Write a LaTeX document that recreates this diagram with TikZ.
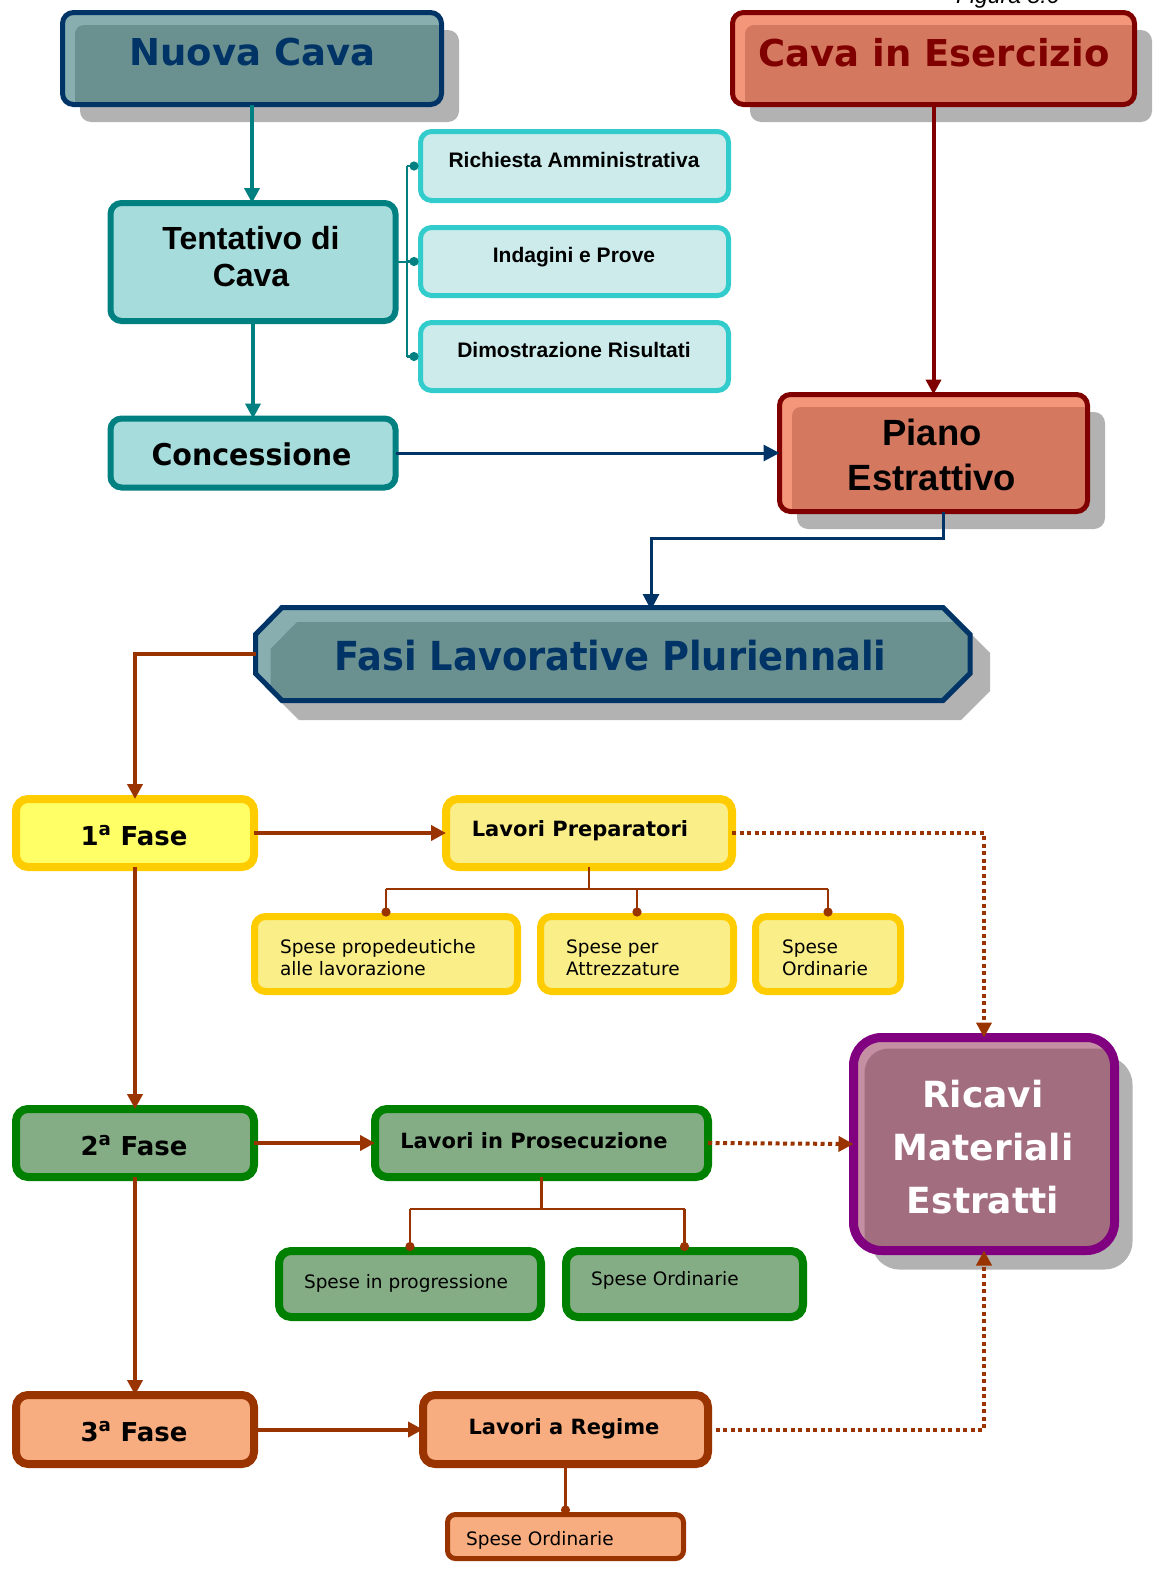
\documentclass[tikz,border=0pt]{standalone}
\usepackage{fontspec}
\setmainfont{DejaVu Sans}
\newfontfamily\midfont{DejaVu Sans}[FakeStretch=0.95]
\newfontfamily\fasifont{DejaVu Sans}[FakeStretch=0.92]
\newfontfamily\arialfont{Liberation Sans}
\usetikzlibrary{shadows,arrows.meta,calc}

\definecolor{navy}{HTML}{003366}
\definecolor{tealline}{HTML}{008080}
\definecolor{cyanedge}{HTML}{33CCCC}
\definecolor{cyanpale}{HTML}{CCEBEA}
\definecolor{cyanfill}{HTML}{A6DCDC}
\definecolor{slatelight}{HTML}{88AEB0}
\definecolor{slate}{HTML}{6A9190}
\definecolor{darkred}{HTML}{800000}
\definecolor{salmonlight}{HTML}{F4967A}
\definecolor{salmon}{HTML}{D47860}
\definecolor{shadowgray}{HTML}{B3B2B3}
\definecolor{gold}{HTML}{FFCC00}
\definecolor{lemon}{HTML}{FFFF66}
\definecolor{paleyellow}{HTML}{F9EE88}
\definecolor{leafgreen}{HTML}{008000}
\definecolor{sage}{HTML}{85AD85}
\definecolor{rust}{HTML}{993300}
\definecolor{peach}{HTML}{F8AD80}
\definecolor{plum}{HTML}{800080}
\definecolor{mauve}{HTML}{A36D80}
\definecolor{mauvelight}{HTML}{C48FA3}

\begin{document}
\begin{tikzpicture}[x=1pt,y=-1pt,
  every node/.style={inner sep=0pt,outer sep=0pt},
  sz/.style 2 args={minimum width=#1pt,minimum height=#2pt},
  castshadow/.style={drop shadow={shadow xshift=17.5pt,shadow yshift=-17.5pt,fill=shadowgray,opacity=1}},
  bevel/.style 2 args={fill=#1,path picture={
      \fill[#2,rounded corners=9pt]
        ($(path picture bounding box.north west)+(12.5,12.5)$)
        rectangle ($(path picture bounding box.south east)+(20,20)$);}},
  headbox/.style={rectangle,draw,line width=5pt,rounded corners=11pt},
  plainbox/.style={rectangle,draw,line width=5pt,rounded corners=11pt},
  phasebox/.style={rectangle,draw,line width=8pt,rounded corners=12pt},
  costbox/.style={rectangle,draw,line width=7pt,rounded corners=11pt},
  tealarrow/.style={draw=tealline,line width=4.5pt,-{Triangle[length=15pt,width=15pt]}},
  tealtree/.style={draw=tealline,line width=2.5pt},
  tealdot/.style={tealtree,-{Circle[length=9pt]}},
  navyarrow/.style={draw=navy,line width=3pt,-{Triangle[length=16pt,width=16pt]}},
  redarrow/.style={draw=darkred,line width=4pt,-{Triangle[length=15pt,width=15pt]}},
  rustarrow/.style={draw=rust,line width=4pt,-{Triangle[length=15pt,width=15pt]}},
  rustdotted/.style={draw=rust,line width=4pt,dash pattern=on 4pt off 3.5pt,-{Triangle[length=15pt,width=15pt]}},
  rusttree/.style={draw=rust,line width=2.5pt},
  rustdot/.style={rusttree,-{Circle[length=9pt]}},
  bigtitle/.style={font=\bfseries\fontsize{37}{44}\selectfont},
  arialbold/.style 2 args={font=\arialfont\bfseries\fontsize{#1}{#2}\selectfont},
  phasetext/.style={font=\bfseries\fontsize{26}{30}\selectfont},
  worktext/.style={font=\bfseries\fontsize{21}{25}\selectfont},
  costtext/.style={font=\fontsize{18.5}{22}\selectfont,align=left,anchor=base west}
]
\useasboundingbox (0,0) rectangle (1160,1574);

% caption cut by the page edge
\node[anchor=base west,font=\arialfont\itshape\fontsize{23}{23}\selectfont] (caption) at (956,4) {Figura 8.6};

% ---------- header boxes ----------
\node[headbox,draw=navy,castshadow,bevel={slatelight}{slate},sz={379}{92}] (nuova) at (252,58.5) {};
\node[bigtitle,text=navy,anchor=base] (nuovat) at (252.5,65) {Nuova Cava};

\node[headbox,draw=darkred,castshadow,bevel={salmonlight}{salmon},sz={402}{92}] (cava) at (933.5,58.5) {};
\node[bigtitle,text=darkred,anchor=base] (cavat) at (934,66) {Cava in Esercizio};

% ---------- authorisation branch ----------
\node[plainbox,draw=tealline,line width=6pt,fill=cyanfill,sz={285}{118}] (tentativo) at (253,262) {};
\node[arialbold={32}{37},align=center] (tentativot) at (251,256.5) {Tentativo di\\Cava};

\node[plainbox,draw=tealline,line width=6pt,fill=cyanfill,sz={285}{69}] (concessione) at (253,453) {};
\node[font=\midfont\bfseries\fontsize{30}{36}\selectfont,anchor=base] (concessionet) at (251.5,465) {Concessione};

\node[plainbox,draw=cyanedge,fill=cyanpale,sz={308}{69}] (richiesta) at (574.5,166) {};
\node[arialbold={21}{25},anchor=base] (richiestat) at (574,167) {Richiesta Amministrativa};
\node[plainbox,draw=cyanedge,fill=cyanpale,sz={308}{68}] (indagini) at (574.5,261.5) {};
\node[arialbold={21}{25},anchor=base] (indaginit) at (574,262) {Indagini e Prove};
\node[plainbox,draw=cyanedge,fill=cyanpale,sz={308}{68}] (dimostrazione) at (574.5,356.5) {};
\node[arialbold={21}{25},anchor=base] (dimostrazionet) at (574,357) {Dimostrazione Risultati};

% ---------- extraction plan ----------
\node[headbox,draw=darkred,castshadow,bevel={salmonlight}{salmon},sz={308}{117}] (piano) at (933.5,453) {};
\node[arialbold={36.5}{45},align=center] (pianot) at (932,455) {Piano\\Estrattivo};

% ---------- multi-year working phases (octagon) ----------
\node[sz={714}{92}] (fasi) at (612.5,654) {};
\fill[shadowgray] (299,624) -- (961,624) -- (990,653) -- (990,691) -- (961,720) -- (299,720) -- (270,691) -- (270,653) -- cycle;
\begin{scope}
  \clip (282,607.5) -- (943,607.5) -- (970,634.5) -- (970,673.5) -- (943,700.5) -- (282,700.5) -- (255.5,673.5) -- (255.5,634.5) -- cycle;
  \fill[slatelight] (240,590) rectangle (990,720);
  \fill[slate] (297,622) -- (960,622) -- (987,649) -- (987,688) -- (960,715) -- (297,715) -- (270.5,688) -- (270.5,649) -- cycle;
\end{scope}
\draw[navy,line width=5pt,line join=miter] (282,607.5) -- (943,607.5) -- (970,634.5) -- (970,673.5) -- (943,700.5) -- (282,700.5) -- (255.5,673.5) -- (255.5,634.5) -- cycle;
\node[font=\fasifont\bfseries\fontsize{40}{44}\selectfont,text=navy,anchor=base] (fasit) at (610.5,670) {Fasi Lavorative Pluriennali};

% ---------- phase 1 ----------
\node[phasebox,draw=gold,fill=lemon,sz={238}{68}] (fase1) at (135,833) {};
\node[phasetext,anchor=base] (fase1t) at (134,845) {1\textsuperscript{a} Fase};
\node[phasebox,draw=gold,fill=paleyellow,sz={286}{68}] (prep) at (589,833) {};
\node[worktext,anchor=base] (prept) at (580,836) {Lavori Preparatori};

\node[costbox,draw=gold,fill=paleyellow,sz={263}{75}] (propedeutiche) at (386,954) {};
\node[costtext] (propedeutichet) at (280,975) {Spese propedeutiche\\alle lavorazione};
\node[costbox,draw=gold,fill=paleyellow,sz={193}{75}] (attrezzature) at (637,954) {};
\node[costtext] (attrezzaturet) at (566,975) {Spese per\\Attrezzature};
\node[costbox,draw=gold,fill=paleyellow,sz={145}{75}] (ordinarie1) at (828,954) {};
\node[costtext] (ordinarie1t) at (782,975) {Spese\\Ordinarie};

% ---------- revenue box ----------
\node[rectangle,draw=plum,line width=9pt,rounded corners=28pt,
      drop shadow={shadow xshift=18pt,shadow yshift=-19pt,fill=shadowgray,opacity=1},
      fill=mauvelight,
      path picture={\fill[mauve,rounded corners=24pt]
        ($(path picture bounding box.north west)+(11,11)$)
        rectangle ($(path picture bounding box.south east)+(30,30)$);},
      sz={261}{213}] (ricavi) at (984,1144) {};
\node[font=\bfseries\fontsize{36}{53}\selectfont,text=white,align=center] (ricavit) at (983,1147) {Ricavi\\Materiali\\Estratti};

% ---------- phase 2 ----------
\node[phasebox,draw=leafgreen,fill=sage,sz={238}{68}] (fase2) at (135,1143) {};
\node[phasetext,anchor=base] (fase2t) at (134,1155) {2\textsuperscript{a} Fase};
\node[phasebox,draw=leafgreen,fill=sage,sz={333}{68}] (prosecuzione) at (541.5,1143) {};
\node[worktext,anchor=base] (prosecuzionet) at (534,1148) {Lavori in Prosecuzione};

\node[phasebox,draw=leafgreen,fill=sage,sz={262}{66}] (progressione) at (410,1284) {};
\node[costtext] (progressionet) at (304,1288) {Spese in progressione};
\node[phasebox,draw=leafgreen,fill=sage,sz={237}{66}] (ordinarie2) at (684.5,1284) {};
\node[costtext] (ordinarie2t) at (591,1285) {Spese Ordinarie};

% ---------- phase 3 ----------
\node[phasebox,draw=rust,fill=peach,sz={238}{69}] (fase3) at (135,1429.5) {};
\node[phasetext,anchor=base] (fase3t) at (134,1441) {3\textsuperscript{a} Fase};
\node[phasebox,draw=rust,fill=peach,sz={285}{69}] (regime) at (565.5,1429.5) {};
\node[worktext,anchor=base] (regimet) at (564,1434) {Lavori a Regime};

\node[plainbox,draw=rust,fill=peach,rounded corners=8pt,sz={236}{44}] (ordinarie3) at (565.5,1536.5) {};
\node[costtext] (ordinarie3t) at (466,1545) {Spese Ordinarie};

% ---------- connectors ----------
\draw[tealarrow] (nuova.south) -- (nuova.south |- tentativo.north);
\draw[tealarrow] (tentativo.south) -- (concessione.north);

\coordinate (brace) at (407,262);
\draw[tealtree] (tentativo.east) -- (brace);
\draw[tealtree] (brace |- richiesta.west) -- (brace |- dimostrazione.west);
\draw[tealdot] (brace |- richiesta.west) -- ([xshift=-2pt]richiesta.west);
\draw[tealdot] (brace |- indagini.west) -- ([xshift=-2pt]indagini.west);
\draw[tealdot] (brace |- dimostrazione.west) -- ([xshift=-2pt]dimostrazione.west);

\draw[navyarrow] (concessione.east) -- (piano.west);
\draw[redarrow] (cava.south) -- (cava.south |- piano.north);
\draw[navyarrow] ([xshift=10pt]piano.south) -- ++(0,27) -| ([xshift=38.5pt,yshift=-2pt]fasi.north);

\draw[rustarrow] (fasi.west) -| (fase1.north);
\draw[rustarrow] (fase1.east) -- (prep.west);
\draw[rustarrow] (fase1.south) -- (fase2.north);
\draw[rustarrow] (fase2.east) -- (prosecuzione.west);
\draw[rustarrow] (fase2.south) -- (fase3.north);
\draw[rustarrow] (fase3.east) -- (regime.west);

\draw[rusttree] (prep.south) -- ++(0,22) coordinate (fork1);
\draw[rusttree] (fork1 -| propedeutiche.north) -- (fork1 -| ordinarie1.north);
\draw[rustdot] (fork1 -| propedeutiche.north) -- (propedeutiche.north);
\draw[rustdot] (fork1 -| attrezzature.north) -- (attrezzature.north);
\draw[rustdot] (fork1 -| ordinarie1.north) -- (ordinarie1.north);

\draw[rusttree] (prosecuzione.south) -- ++(0,32) coordinate (fork2);
\draw[rusttree] (fork2 -| progressione.north) -- (fork2 -| ordinarie2.north);
\draw[rustdot] (fork2 -| progressione.north) -- (progressione.north);
\draw[rustdot] (fork2 -| ordinarie2.north) -- (ordinarie2.north);

\draw[rustdot] (regime.south) -- (ordinarie3.north);

\draw[rustdotted] (prep.east) -| (ricavi.north);
\draw[rustdotted] (prosecuzione.east) -- (ricavi.west);
\draw[rustdotted] (regime.east) -| (ricavi.south);
\end{tikzpicture}
\end{document}
